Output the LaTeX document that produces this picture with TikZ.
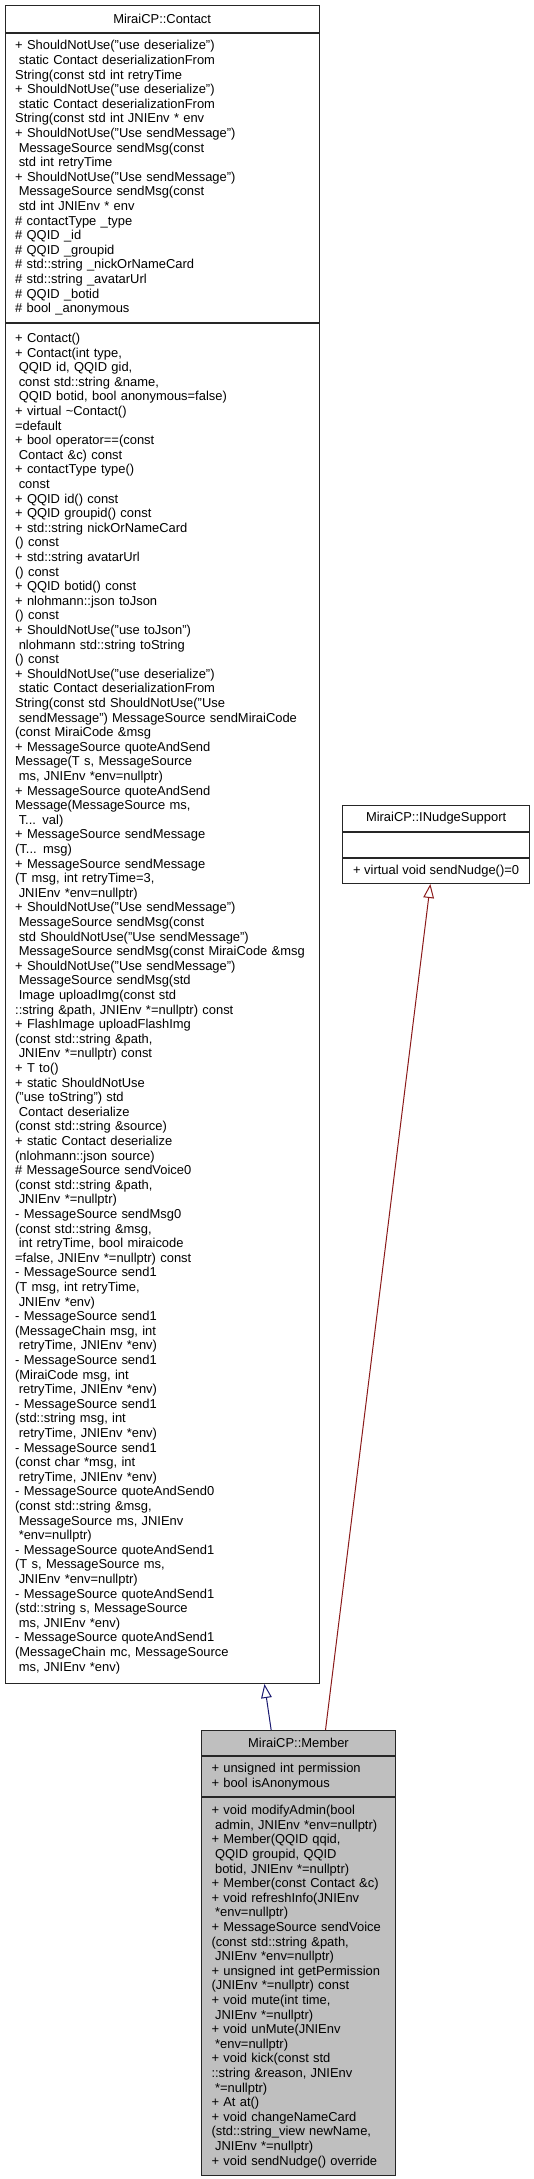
\documentclass[tikz,border=0pt]{standalone}
\usepackage{fontspec}
\setmainfont{Liberation Sans}
\usetikzlibrary{positioning}
\usetikzlibrary{arrows.meta}

\definecolor{midnightblue}{RGB}{25,25,112}
\definecolor{firebrick}{RGB}{139,26,26}
\definecolor{grey75}{RGB}{191,191,191}
\newcommand{\indt}{\hspace*{2.7pt}}

\begin{document}
\begin{tikzpicture}[node distance=0pt,font=\fontsize{9.7pt}{10.95pt}\selectfont,
  classtitle/.style={rectangle,draw=black!85,line width=0.75pt,fill=white,inner sep=0pt},
  classpart/.style={rectangle,draw=black!85,line width=0.75pt,fill=white,align=left,inner xsep=7.5pt,inner ysep=0pt},
  inherit/.style={line width=0.75pt,-{Triangle[open,length=10.5pt,width=8pt]}}]
\useasboundingbox (0,0) rectangle (399.75pt,-1634.25pt);

% base class
\node[classtitle,minimum width=235.5pt,minimum height=20.25pt,anchor=north west] (contacttitle) at (3.5pt,-3.75pt) {MiraiCP::Contact};
\node[classpart,text width=220.5pt,minimum height=216.75pt,below=of contacttitle] (contactattr) {%
+ ShouldNotUse("use deserialize")\\
\indt static Contact deserializationFrom\\
String(const std int retryTime\\
+ ShouldNotUse("use deserialize")\\
\indt static Contact deserializationFrom\\
String(const std int JNIEnv * env\\
+ ShouldNotUse("Use sendMessage")\\
\indt MessageSource sendMsg(const\\
\indt std int retryTime\\
+ ShouldNotUse("Use sendMessage")\\
\indt MessageSource sendMsg(const\\
\indt std int JNIEnv * env\\
\# contactType \_type\\
\# QQID \_id\\
\# QQID \_groupid\\
\# std::string \_nickOrNameCard\\
\# std::string \_avatarUrl\\
\# QQID \_botid\\
\# bool \_anonymous};
\node[classpart,text width=220.5pt,minimum height=1020pt,below=of contactattr] (contactmeth) {%
+ Contact()\\
+ Contact(int type,\\
\indt QQID id, QQID gid,\\
\indt const std::string \&name,\\
\indt QQID botid, bool anonymous=false)\\
+ virtual \textasciitilde Contact()\\
=default\\
+ bool operator==(const\\
\indt Contact \&c) const\\
+ contactType type()\\
\indt const\\
+ QQID id() const\\
+ QQID groupid() const\\
+ std::string nickOrNameCard\\
() const\\
+ std::string avatarUrl\\
() const\\
+ QQID botid() const\\
+ nlohmann::json toJson\\
() const\\
+ ShouldNotUse("use toJson")\\
\indt nlohmann std::string toString\\
() const\\
+ ShouldNotUse("use deserialize")\\
\indt static Contact deserializationFrom\\
String(const std ShouldNotUse("Use\\
\indt sendMessage") MessageSource sendMiraiCode\\
(const MiraiCode \&msg\\
+ MessageSource quoteAndSend\\
Message(T s, MessageSource\\
\indt ms, JNIEnv *env=nullptr)\\
+ MessageSource quoteAndSend\\
Message(MessageSource ms,\\
\indt T... val)\\
+ MessageSource sendMessage\\
(T... msg)\\
+ MessageSource sendMessage\\
(T msg, int retryTime=3,\\
\indt JNIEnv *env=nullptr)\\
+ ShouldNotUse("Use sendMessage")\\
\indt MessageSource sendMsg(const\\
\indt std ShouldNotUse("Use sendMessage")\\
\indt MessageSource sendMsg(const MiraiCode \&msg\\
+ ShouldNotUse("Use sendMessage")\\
\indt MessageSource sendMsg(std\\
\indt Image uploadImg(const std\\
::string \&path, JNIEnv *=nullptr) const\\
+ FlashImage uploadFlashImg\\
(const std::string \&path,\\
\indt JNIEnv *=nullptr) const\\
+ T to()\\
+ static ShouldNotUse\\
("use toString") std\\
\indt Contact deserialize\\
(const std::string \&source)\\
+ static Contact deserialize\\
(nlohmann::json source)\\
\# MessageSource sendVoice0\\
(const std::string \&path,\\
\indt JNIEnv *=nullptr)\\
- MessageSource sendMsg0\\
(const std::string \&msg,\\
\indt int retryTime, bool miraicode\\
=false, JNIEnv *=nullptr) const\\
- MessageSource send1\\
(T msg, int retryTime,\\
\indt JNIEnv *env)\\
- MessageSource send1\\
(MessageChain msg, int\\
\indt retryTime, JNIEnv *env)\\
- MessageSource send1\\
(MiraiCode msg, int\\
\indt retryTime, JNIEnv *env)\\
- MessageSource send1\\
(std::string msg, int\\
\indt retryTime, JNIEnv *env)\\
- MessageSource send1\\
(const char *msg, int\\
\indt retryTime, JNIEnv *env)\\
- MessageSource quoteAndSend0\\
(const std::string \&msg,\\
\indt MessageSource ms, JNIEnv\\
\indt *env=nullptr)\\
- MessageSource quoteAndSend1\\
(T s, MessageSource ms,\\
\indt JNIEnv *env=nullptr)\\
- MessageSource quoteAndSend1\\
(std::string s, MessageSource\\
\indt ms, JNIEnv *env)\\
- MessageSource quoteAndSend1\\
(MessageChain mc, MessageSource\\
\indt ms, JNIEnv *env)};

% interface
\node[classtitle,minimum width=140pt,minimum height=19.5pt,anchor=north west] (nudgetitle) at (256.7pt,-603.75pt) {MiraiCP::INudgeSupport};
\node[classpart,minimum width=140pt,minimum height=18.75pt,below=of nudgetitle] (nudgeattr) {};
\node[classpart,align=center,minimum width=140pt,minimum height=18.75pt,below=of nudgeattr] (nudgemeth) {+ virtual void sendNudge()=0};

% derived class
\node[classtitle,fill=grey75,minimum width=145.5pt,minimum height=18.75pt,anchor=north west] (membertitle) at (150.75pt,-1297.5pt) {MiraiCP::Member};
\node[classpart,fill=grey75,text width=130.5pt,minimum height=30pt,below=of membertitle] (memberattr) {%
+ unsigned int permission\\
+ bool isAnonymous};
\node[classpart,fill=grey75,text width=130.5pt,minimum height=283.5pt,below=of memberattr] (membermeth) {%
+ void modifyAdmin(bool\\
\indt admin, JNIEnv *env=nullptr)\\
+ Member(QQID qqid,\\
\indt QQID groupid, QQID\\
\indt botid, JNIEnv *=nullptr)\\
+ Member(const Contact \&c)\\
+ void refreshInfo(JNIEnv\\
\indt *env=nullptr)\\
+ MessageSource sendVoice\\
(const std::string \&path,\\
\indt JNIEnv *env=nullptr)\\
+ unsigned int getPermission\\
(JNIEnv *=nullptr) const\\
+ void mute(int time,\\
\indt JNIEnv *=nullptr)\\
+ void unMute(JNIEnv\\
\indt *env=nullptr)\\
+ void kick(const std\\
::string \&reason, JNIEnv\\
\indt *=nullptr)\\
+ At at()\\
+ void changeNameCard\\
(std::string\_view newName,\\
\indt JNIEnv *=nullptr)\\
+ void sendNudge() override};

\draw[inherit,midnightblue] ([xshift=-20.5pt]membertitle.north) -- ([xshift=76.7pt]contactmeth.south);
\draw[inherit,firebrick] ([xshift=20.25pt]membertitle.north) -- ([xshift=-4.3pt]nudgemeth.south);

\end{tikzpicture}
\end{document}
